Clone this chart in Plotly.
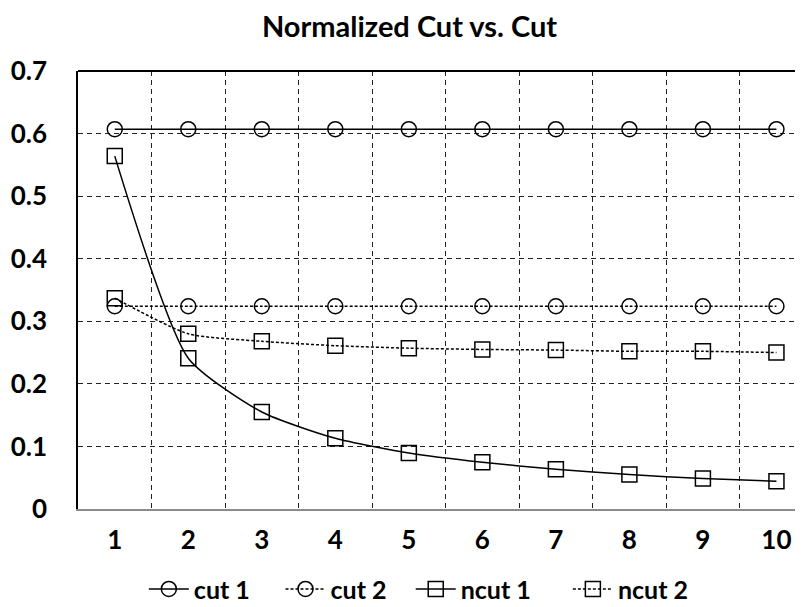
import plotly.graph_objects as go

x_vals = [1, 2, 3, 4, 5, 6, 7, 8, 9, 10]
cut1 = [0.607, 0.607, 0.607, 0.607, 0.607, 0.607, 0.607, 0.607, 0.607, 0.607]
cut2 = [0.324, 0.324, 0.324, 0.324, 0.324, 0.324, 0.324, 0.324, 0.324, 0.324]
ncut1 = [0.564, 0.241, 0.155, 0.113, 0.0895, 0.0746, 0.0634, 0.055, 0.0486, 0.0442]
ncut2 = [0.337, 0.280, 0.268, 0.261, 0.257, 0.255, 0.254, 0.252, 0.252, 0.250]
y_ticks = [0, 0.1, 0.2, 0.3, 0.4, 0.5, 0.6, 0.7]
y_tick_text = ["0", "0.1", "0.2", "0.3", "0.4", "0.5", "0.6", "0.7"]
x_grid = [1.5, 2.5, 3.5, 4.5, 5.5, 6.5, 7.5, 8.5, 9.5]

FONT = "Lato"
NB = "\u00a0"
series = [
    ("cut 1", cut1, "solid", "circle-open", 4),
    ("cut 2", cut2, "3px,2px", "circle-open", 3),
    ("ncut 1", ncut1, "solid", "square-open", 5),
    ("ncut 2", ncut2, "3px,2px", "square-open", 0),
]

fig = go.Figure()
for name, vals, dash, sym, pad in series:
    fig.add_trace(go.Scatter(
        x=x_vals, y=vals, name=f"<b>{name}</b>" + NB * pad, mode="lines+markers",
        line=dict(color="black", width=1.5, dash=dash, shape="spline", smoothing=0.6),
        marker=dict(symbol=sym, size=15, color="black", line=dict(width=1.5, color="black")),
    ))

fig.update_layout(
    width=803, height=607,
    margin=dict(l=70, r=0, t=63, b=106, autoexpand=False),
    paper_bgcolor="white", plot_bgcolor="white",
    title=dict(text="<b>Normalized Cut vs. Cut</b>", x=0.5, xanchor="center",
               y=1 - 19 / 607, yanchor="middle",
               font=dict(family=FONT, size=29, color="black")),
    font=dict(family=FONT, color="black"),
    showlegend=True,
    legend=dict(orientation="h", x=0.465, xanchor="center", y=-0.183, yanchor="middle",
                font=dict(family=FONT, size=25, color="black"),
                itemwidth=40, traceorder="normal"),
)

fig.update_xaxes(
    range=[0.5, 10.47], tickmode="array", tickvals=x_vals,
    ticktext=[f"<b>{v}</b>" for v in x_vals],
    tickfont=dict(family=FONT, size=26, color="black"),
    showgrid=False, zeroline=False,
    showline=True, linecolor="#8c8c8c", linewidth=2, ticks="",
    ticklabelstandoff=7,
    minor=dict(tickvals=x_grid, showgrid=True, gridcolor="#222222", griddash="5px,4px", gridwidth=1, ticks=""),
)
fig.update_yaxes(
    range=[0, 0.7], tickmode="array", tickvals=y_ticks,
    ticktext=[f"<b>{t}</b>" for t in y_tick_text],
    tickfont=dict(family=FONT, size=26, color="black"),
    showgrid=True, gridcolor="#222222", griddash="5px,4px", gridwidth=1,
    zeroline=False, showline=True, linecolor="black", linewidth=1.5, ticks="",
    ticklabelstandoff=24,
)

fig.add_shape(type="line", xref="paper", yref="paper", x0=0, x1=1, y0=1, y1=1,
              line=dict(color="black", width=2))

fig.write_html("out.html")
